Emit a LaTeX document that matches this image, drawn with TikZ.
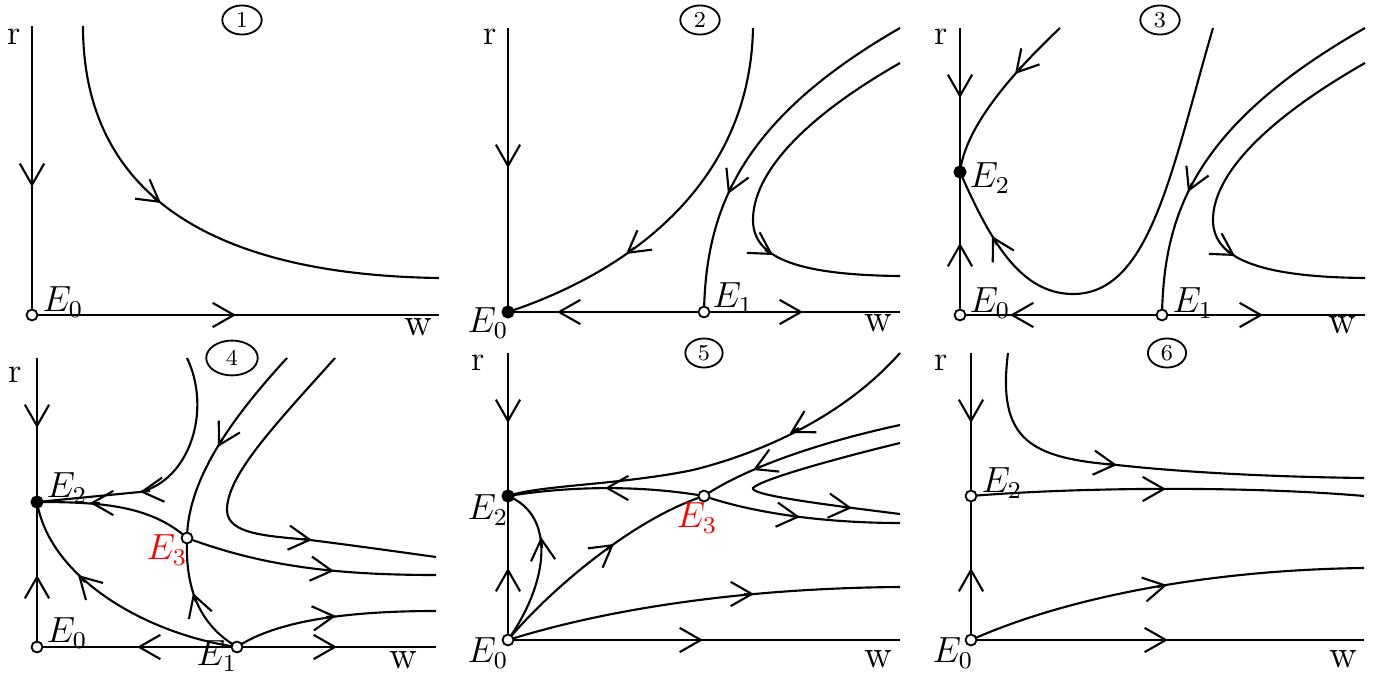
\documentclass[tikz,border=0pt]{standalone}
\usetikzlibrary{arrows.meta,shapes.geometric}
\begin{document}
\begin{tikzpicture}[x=0.33pt,y=-0.33pt,line width=0.7pt,font=\fontsize{11.5}{14}\selectfont,
    inner sep=1pt,
    barb/.style={-{Straight Barb[length=7pt,width=8pt,line width=0.7pt]}},
    eqo/.style={circle,draw,fill=white,inner sep=0pt,minimum size=3.6pt,line width=0.6pt},
    eqf/.style={circle,draw,fill=black,inner sep=0pt,minimum size=3.6pt},
    num/.style={ellipse,draw,line width=0.6pt,inner sep=0pt,minimum width=13pt,
              minimum height=9.6pt,font=\fontsize{7.5}{9}\selectfont},
    wlab/.style={font=\fontsize{13}{15}\selectfont}]
  \useasboundingbox (0,0) rectangle (1383,673);

  % panel 1
  \coordinate (P1E0) at (32,315);
  \draw (32,26) -- (P1E0) -- (439,315);
  \draw[barb] (32,177) -- (32,187);
  \draw[barb] (226,315) -- (236,315);
  \draw (83,26) .. controls (83,200) and (220,275) .. (439,278);
  \draw[barb] (153,197) -- (161,203);
  \node (ra) at (14,37) {r};
  \node[wlab] (wa) at (418,327) {w};
  \node (la0) at (63,302) {$E_0$};
  \node[num] (n1) at (242,20) {1};
  \node[eqo] (a0) at (P1E0) {};

  % panel 2
  \coordinate (P2E0) at (508,312);
  \coordinate (P2E1) at (704,312);
  \draw (508,28) -- (P2E0) -- (900,312);
  \draw[barb] (508,158) -- (508,168);
  \draw[barb] (567,312) -- (557,312);
  \draw[barb] (793,312) -- (803,312);
  \draw (753,28) .. controls (750,190) and (620,275) .. (P2E0);
  \draw[barb] (634,248) -- (626,254);
  \draw (P2E1) .. controls (706,210) and (740,120) .. (900,28);
  \draw[barb] (732,185) -- (728,194);
  \draw (900,63) .. controls (800,120) and (753,175) .. (753,220)
        .. controls (753,255) and (790,275) .. (900,276);
  \draw[barb] (765,250) -- (773,255);
  \node (rb) at (490,37) {r};
  \node[wlab] (wb) at (878,323) {w};
  \node (lb0) at (488,323) {$E_0$};
  \node (lb1) at (733,298) {$E_1$};
  \node[num] (n2) at (700,20) {2};
  \node[eqf] (b0) at (P2E0) {};
  \node[eqo] (b1) at (P2E1) {};

  % panel 3
  \coordinate (P3E0) at (960,315);
  \coordinate (P3E1) at (1162,315);
  \coordinate (P3E2) at (960,172);
  \draw (960,28) -- (P3E0) -- (1365,315);
  \draw[barb] (960,88) -- (960,98);
  \draw[barb] (960,253) -- (960,243);
  \draw[barb] (1020,315) -- (1010,315);
  \draw[barb] (1253,315) -- (1263,315);
  \draw (1060,28) .. controls (1005,80) and (965,130) .. (P3E2);
  \draw[barb] (1022,66) -- (1015,74);
  \draw (P3E2) .. controls (990,240) and (1020,294) .. (1073,294)
        .. controls (1150,294) and (1171,172) .. (1213,28);
  \draw[barb] (997,245) -- (992,236);
  \draw (P3E1) .. controls (1164,213) and (1195,125) .. (1365,28);
  \draw[barb] (1192,183) -- (1188,192);
  \draw (1365,63) .. controls (1265,120) and (1213,175) .. (1213,220)
        .. controls (1213,257) and (1255,277) .. (1365,278);
  \draw[barb] (1227,251) -- (1235,256);
  \node (rc) at (941,37) {r};
  \node[wlab] (wc) at (1342,325) {w};
  \node (lc0) at (990,303) {$E_0$};
  \node (lc1) at (1193,303) {$E_1$};
  \node (lc2) at (990,178) {$E_2$};
  \node[num] (n3) at (1160,20) {3};
  \node[eqo] (c0) at (P3E0) {};
  \node[eqo] (c1) at (P3E1) {};
  \node[eqf] (c2) at (P3E2) {};

  % panel 4
  \coordinate (P4E0) at (37,647);
  \coordinate (P4E1) at (237,647);
  \coordinate (P4E2) at (37,502);
  \coordinate (P4E3) at (187,538);
  \draw (37,358) -- (P4E0) -- (436,647);
  \draw[barb] (37,418) -- (37,428);
  \draw[barb] (37,585) -- (37,575);
  \draw[barb] (147,647) -- (137,647);
  \draw[barb] (327,647) -- (337,647);
  \draw (187,358) .. controls (212,410) and (190,480) .. (140,492) -- (P4E2);
  \draw[barb] (150,491) -- (140,492);
  \draw (P4E3) .. controls (150,505) and (100,502) .. (P4E2);
  \draw[barb] (100,503) -- (90,503);
  \draw (P4E1) .. controls (150,635) and (50,580) .. (P4E2);
  \draw[barb] (85,582) -- (78,575);
  \draw (287,358) .. controls (230,420) and (188,480) .. (P4E3)
        .. controls (185,590) and (200,625) .. (P4E1);
  \draw[barb] (223,438) -- (218,447);
  \draw[barb] (196,602) -- (193,593);
  \draw (P4E3) .. controls (260,565) and (330,575) .. (436,575);
  \draw[barb] (324,570) -- (334,571);
  \draw (335,358) .. controls (275,425) and (227,475) .. (227,510)
        .. controls (227,535) and (270,536) .. (310,540)
        .. controls (350,545) and (400,552) .. (436,557);
  \draw[barb] (302,539) -- (312,540);
  \draw (P4E1) .. controls (270,625) and (330,611) .. (436,611);
  \draw[barb] (326,617) -- (336,616);
  \node (rd) at (15,375) {r};
  \node[wlab] (wd) at (403,660) {w};
  \node (ld0) at (67,633) {$E_0$};
  \node (ld1) at (217,656) {$E_1$};
  \node (ld2) at (67,488) {$E_2$};
  \node[red] (ld3) at (167,550) {$E_3$};
  \node[num,minimum width=17pt,minimum height=11.5pt] (n4) at (232,358) {4};
  \node[eqo] (d0) at (P4E0) {};
  \node[eqo] (d1) at (P4E1) {};
  \node[eqf] (d2) at (P4E2) {};
  \node[eqo] (d3) at (P4E3) {};

  % panel 5
  \coordinate (P5E0) at (508,640);
  \coordinate (P5E2) at (508,496);
  \coordinate (P5E3) at (704,496);
  \draw (508,353) -- (P5E0) -- (900,640);
  \draw[barb] (508,413) -- (508,423);
  \draw[barb] (508,578) -- (508,568);
  \draw[barb] (693,640) -- (703,640);
  \draw (P5E0) .. controls (550,580) and (555,515) .. (P5E2);
  \draw[barb] (542,548) -- (541,537);
  \draw (P5E0) .. controls (545,595) and (630,520) .. (P5E3);
  \draw[barb] (606,550) -- (614,544);
  \draw (P5E3) .. controls (640,485) and (570,486) .. (P5E2);
  \draw[barb] (615,488) -- (605,488);
  \draw (900,353) .. controls (845,415) and (765,452) .. (693,470)
        .. controls (620,485) and (540,485) .. (P5E2);
  \draw[barb] (799,428) -- (790,433);
  \draw (900,425) .. controls (830,440) and (750,465) .. (P5E3);
  \draw[barb] (762,466) -- (753,470);
  \draw (P5E3) .. controls (750,512) and (820,523) .. (900,523);
  \draw[barb] (790,516) -- (800,517);
  \draw (900,443) .. controls (830,460) and (760,480) .. (753,488)
        .. controls (750,495) and (820,504) .. (900,514);
  \draw[barb] (842,507) -- (852,508);
  \draw (P5E0) .. controls (620,605) and (760,588) .. (900,587);
  \draw[barb] (744,594) -- (754,594);
  \node (re) at (478,363) {r};
  \node[wlab] (we) at (878,659) {w};
  \node (le0) at (488,653) {$E_0$};
  \node (le2) at (488,510) {$E_2$};
  \node[red] (le3) at (697,518) {$E_3$};
  \node[num,minimum width=12.3pt] (n5) at (704,353) {5};
  \node[eqo] (e0) at (P5E0) {};
  \node[eqf] (e2) at (P5E2) {};
  \node[eqo] (e3) at (P5E3) {};

  % panel 6
  \coordinate (P6E0) at (971,640);
  \coordinate (P6E2) at (971,496);
  \draw (971,353) -- (P6E0) -- (1364,640);
  \draw[barb] (971,413) -- (971,423);
  \draw[barb] (971,578) -- (971,568);
  \draw[barb] (1158,640) -- (1168,640);
  \draw (1008,353) .. controls (997,440) and (1030,458) .. (1117,465)
        .. controls (1190,473) and (1280,477) .. (1364,478);
  \draw[barb] (1107,464) -- (1117,465);
  \draw (P6E2) .. controls (1080,487) and (1250,486) .. (1364,496);
  \draw[barb] (1156,489) -- (1166,489);
  \draw (P6E0) .. controls (1060,600) and (1200,570) .. (1364,568);
  \draw[barb] (1157,587) -- (1167,585);
  \node (rf) at (941,363) {r};
  \node[wlab] (wf) at (1343,659) {w};
  \node (lf0) at (953,653) {$E_0$};
  \node (lf2) at (1002,483) {$E_2$};
  \node[num,minimum width=12.6pt] (n6) at (1167,353) {6};
  \node[eqo] (f0) at (P6E0) {};
  \node[eqo] (f2) at (P6E2) {};
\end{tikzpicture}
\end{document}
